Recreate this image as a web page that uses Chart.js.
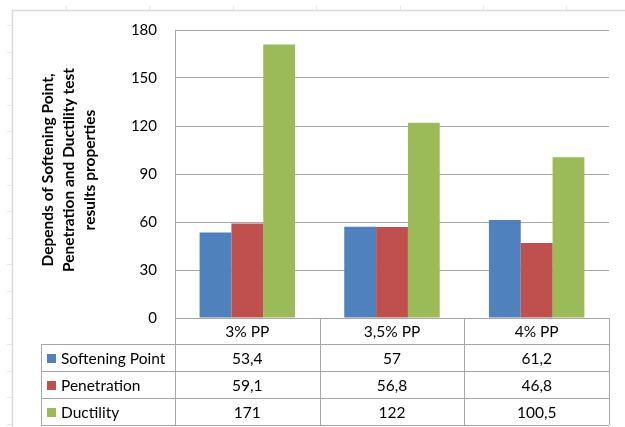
<!DOCTYPE html>
<html>
<head>
<meta charset="utf-8">
<script src="https://cdn.jsdelivr.net/npm/chart.js@4/dist/chart.umd.min.js"></script>
<style>
  html, body { margin: 0; padding: 0; background: #ffffff; }
  #wrap { width: 625px; height: 427px; }
</style>
</head>
<body>
<div id="wrap"><canvas id="chart" width="625" height="427"></canvas></div>
<script>
// Test mixes (polypropylene content)
const categories = ['3% PP', '3,5% PP', '4% PP'];

// Measured results per mix
const softeningPoint = [53.4, 57, 61.2];
const penetration = [59.1, 56.8, 46.8];
const ductility = [171, 122, 100.5];

const seriesNames = ['Softening Point', 'Penetration', 'Ductility'];
const seriesColors = ['#4F81BD', '#C0504D', '#9BBB59'];

const yTitleLines = ['Depends of Softening Point,', 'Penetration and Ductility test', 'results properties'];

const FONT = 'Lato, "Open Sans", sans-serif';
const LINE = '#A6A6A6';

// Format numbers with a decimal comma for the data table
const fmt = v => String(v).replace('.', ',');

// Draws the sheet backdrop, chart border, rotated axis title and the data table under the plot
const tablePlugin = {
  id: 'dataTable',
  afterDraw(chart) {
    const ctx = chart.ctx;
    const area = chart.chartArea;
    const xs = chart.scales.x;
    const sets = chart.data.datasets;

    ctx.save();

    // worksheet cell borders peeking out around the chart object
    ctx.strokeStyle = '#E6E6E6';
    ctx.lineWidth = 1;
    ctx.beginPath();
    for (let y = 25; y < chart.height; y += 26.6) {
      ctx.moveTo(7, Math.round(y) + 0.5);
      ctx.lineTo(12, Math.round(y) + 0.5);
    }
    for (let x = 66; x < chart.width; x += 83.4) {
      ctx.moveTo(Math.round(x) + 0.5, 6);
      ctx.lineTo(Math.round(x) + 0.5, 10);
    }
    ctx.stroke();

    // chart area border
    ctx.strokeStyle = '#D9D9D9';
    ctx.lineWidth = 1.5;
    ctx.beginPath();
    ctx.moveTo(12.5, chart.height);
    ctx.lineTo(12.5, 10.5);
    ctx.lineTo(chart.width, 10.5);
    ctx.stroke();

    // rotated y axis title
    ctx.fillStyle = '#000';
    ctx.font = 'bold 15.5px ' + FONT;
    ctx.textAlign = 'center';
    ctx.textBaseline = 'middle';
    const titleCx = 69, titleCy = 170, lineGap = 21;
    yTitleLines.forEach((t, i) => {
      ctx.save();
      ctx.translate(titleCx + (i - 1) * lineGap, titleCy);
      ctx.rotate(-Math.PI / 2);
      ctx.fillText(t, 0, 0);
      ctx.restore();
    });

    // table geometry
    const colW = xs.width / categories.length;
    const edges = [area.left];
    categories.forEach((c, i) => edges.push(xs.getPixelForValue(i) + colW / 2));
    const tableLeft = 41;
    const rows = [area.bottom, area.bottom + 26];
    for (let i = 0; i < sets.length; i++) rows.push(rows[rows.length - 1] + 27);

    ctx.strokeStyle = LINE;
    ctx.lineWidth = 1;
    ctx.beginPath();
    // horizontal lines
    ctx.moveTo(area.left, Math.round(rows[0]) + 0.5);
    ctx.lineTo(edges[edges.length - 1], Math.round(rows[0]) + 0.5);
    for (let r = 1; r < rows.length; r++) {
      ctx.moveTo(tableLeft, Math.round(rows[r]) + 0.5);
      ctx.lineTo(edges[edges.length - 1], Math.round(rows[r]) + 0.5);
    }
    // vertical lines
    ctx.moveTo(tableLeft + 0.5, rows[1]);
    ctx.lineTo(tableLeft + 0.5, rows[rows.length - 1]);
    edges.forEach(x => {
      ctx.moveTo(Math.round(x) + 0.5, rows[0]);
      ctx.lineTo(Math.round(x) + 0.5, rows[rows.length - 1]);
    });
    ctx.stroke();

    ctx.font = '15.5px ' + FONT;
    ctx.fillStyle = '#000';
    ctx.textBaseline = 'middle';
    ctx.textAlign = 'center';

    // category header
    categories.forEach((c, i) => {
      ctx.fillText(c, xs.getPixelForValue(i), (rows[0] + rows[1]) / 2 + 1);
    });

    // series rows
    sets.forEach((ds, r) => {
      const cy = (rows[r + 1] + rows[r + 2]) / 2 + 1;
      ctx.fillStyle = ds.backgroundColor;
      ctx.fillRect(47, Math.round(cy - 5), 9, 9);
      ctx.fillStyle = '#000';
      ctx.textAlign = 'left';
      ctx.fillText(ds.label, 61, cy);
      ctx.textAlign = 'center';
      ds.data.forEach((v, i) => ctx.fillText(fmt(v), xs.getPixelForValue(i), cy));
    });

    ctx.restore();
  }
};

new Chart(document.getElementById('chart'), {
  type: 'bar',
  data: {
    labels: categories,
    datasets: [
      { label: seriesNames[0], data: softeningPoint, backgroundColor: seriesColors[0] },
      { label: seriesNames[1], data: penetration, backgroundColor: seriesColors[1] },
      { label: seriesNames[2], data: ductility, backgroundColor: seriesColors[2] }
    ]
  },
  options: {
    responsive: false,
    animation: false,
    devicePixelRatio: 1,
    layout: { padding: { left: 0, top: 30, right: 16, bottom: 109 } },
    datasets: { bar: { categoryPercentage: 0.66, barPercentage: 1.0 } },
    plugins: {
      legend: { display: false },
      tooltip: { enabled: false },
      title: { display: false }
    },
    scales: {
      x: { display: false },
      y: {
        min: 0,
        max: 180,
        ticks: {
          stepSize: 30,
          padding: 18,
          color: '#000',
          font: { family: FONT, size: 15 }
        },
        grid: { color: LINE, drawTicks: false },
        border: { display: true, color: LINE },
        afterFit(scale) { scale.width = 175; }
      }
    }
  },
  plugins: [tablePlugin]
});
</script>
</body>
</html>
